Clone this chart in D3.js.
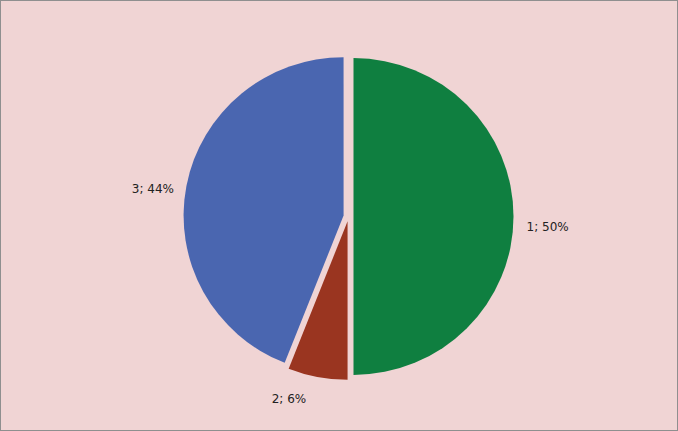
<!DOCTYPE html>
<html>
<head>
<meta charset="utf-8">
<script src="https://cdn.jsdelivr.net/npm/d3@7"></script>
<style>
  body { margin: 0; background: #fff; }
  svg { display: block; }
</style>
</head>
<body>
<div id="chart"></div>
<script>
var categories = ["1", "2", "3"];
var values = [50, 6, 44];
var colors = ["#0f7f40", "#9a3520", "#4a66b0"];
// small label nudges (Excel-style best fit placement)
var labelNudge = [[0, 10], [-23, 3], [0, 7]];

var width = 678,
    height = 431,
    cx = 348.5,
    cy = 216.5,
    radius = 160,
    explode = 5,
    labelRadius = 178;

var svg = d3.select("#chart")
    .append("svg")
    .attr("width", width)
    .attr("height", height);

svg.append("rect")
    .attr("x", 0.5)
    .attr("y", 0.5)
    .attr("width", width - 1)
    .attr("height", height - 1)
    .attr("fill", "#f0d4d4")
    .attr("stroke", "#8f8f8f")
    .attr("stroke-width", 1);

var data = categories.map(function(c, i) {
    return {name: c, value: values[i], color: colors[i]};
});
var total = d3.sum(values);

var pie = d3.pie()
    .sort(null)
    .value(function(d) { return d.value; });

var arc = d3.arc()
    .innerRadius(0)
    .outerRadius(radius);

var g = svg.append("g")
    .attr("transform", "translate(" + cx + "," + cy + ")");

var arcs = pie(data);

// the original pie is a touch squashed vertically
var slices = g.append("g")
    .attr("transform", "scale(1,0.99)");

slices.selectAll("path")
    .data(arcs)
    .enter()
    .append("path")
    .attr("d", arc)
    .attr("fill", function(d) { return d.data.color; })
    .attr("transform", function(d) {
        var a = (d.startAngle + d.endAngle) / 2;
        return "translate(" + (Math.sin(a) * explode) + "," + (-Math.cos(a) * explode) + ")";
    });

var labels = g.selectAll("text")
    .data(arcs)
    .enter()
    .append("text")
    .attr("text-anchor", "middle")
    .attr("font-family", "'DejaVu Sans', sans-serif")
    .attr("font-size", 12)
    .attr("fill", "#222")
    .text(function(d) {
        return d.data.name + "; " + Math.round(d.data.value / total * 100) + "%";
    });

// place each label box just outside the pie edge
labels.each(function(d, i) {
    var bb = this.getBBox();
    var a = (d.startAngle + d.endAngle) / 2;
    var sx = Math.sin(a), sy = -Math.cos(a);
    var x = sx * labelRadius + sx * bb.width / 2 + labelNudge[i][0];
    var y = sy * labelRadius + sy * 5 + labelNudge[i][1];
    d3.select(this)
        .attr("x", x)
        .attr("y", y + 4);
});
</script>
</body>
</html>
